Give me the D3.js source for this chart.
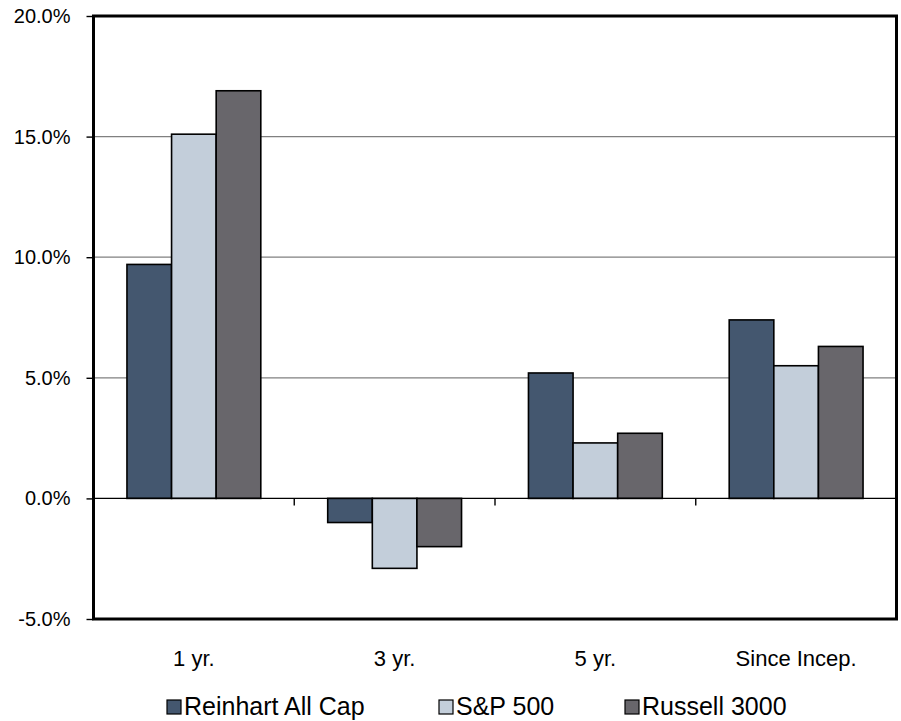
<!DOCTYPE html>
<html>
<head>
<meta charset="utf-8">
<script src="https://cdn.jsdelivr.net/npm/d3@7"></script>
<style>
  html, body { margin: 0; padding: 0; background: #ffffff; }
  svg { display: block; }
  text { font-family: "Liberation Sans", Arial, Helvetica, sans-serif; fill: #000; }
</style>
</head>
<body>
<svg id="chart" width="901" height="721"></svg>
<script>
// Annualized returns by period (%)
const periods = ["1 yr.", "3 yr.", "5 yr.", "Since Incep."];
const seriesNames = ["Reinhart All Cap", "S&P 500", "Russell 3000"];
const reinhart = [9.7, -1.0, 5.2, 7.4];
const sp500 = [15.1, -2.9, 2.3, 5.5];
const russell = [16.9, -2.0, 2.7, 6.3];
const yTicks = [-5, 0, 5, 10, 15, 20];
const seriesColors = ["#44576f", "#c3ceda", "#68666b"];

const seriesValues = [reinhart, sp500, russell];

const svg = d3.select("#chart");
const plot = { left: 93.5, right: 896.5, top: 16, bottom: 619 };

const x = d3.scaleBand()
  .domain(periods)
  .range([plot.left, plot.right])
  .padding(0);

// 150% gap between clusters: three bars plus 0.75 bar on each side
const xs = d3.scaleBand()
  .domain(seriesNames)
  .range([0, x.bandwidth()])
  .paddingInner(0)
  .paddingOuter(0.75);

const y = d3.scaleLinear()
  .domain([-5, 20])
  .range([plot.bottom, plot.top]);

// Horizontal gridlines
svg.append("g")
  .selectAll("line")
  .data(yTicks.filter(t => t > 0 && t < 20))
  .join("line")
  .attr("x1", plot.left).attr("x2", plot.right)
  .attr("y1", d => y(d)).attr("y2", d => y(d))
  .attr("stroke", "#808080")
  .attr("stroke-width", 1.2);

// Bars
const rows = periods.map((p, i) => ({
  period: p,
  values: seriesNames.map((s, j) => ({ series: s, value: seriesValues[j][i], color: seriesColors[j] }))
}));

const groups = svg.append("g")
  .selectAll("g")
  .data(rows)
  .join("g")
  .attr("transform", d => `translate(${x(d.period)},0)`);

groups.selectAll("rect")
  .data(d => d.values)
  .join("rect")
  .attr("x", d => xs(d.series))
  .attr("width", xs.bandwidth())
  .attr("y", d => y(Math.max(0, d.value)))
  .attr("height", d => Math.abs(y(d.value) - y(0)))
  .attr("fill", d => d.color)
  .attr("stroke", "#000")
  .attr("stroke-width", 1.6);

// Zero line with category separators
const zero = svg.append("g");
zero.append("line")
  .attr("x1", plot.left).attr("x2", plot.right)
  .attr("y1", y(0)).attr("y2", y(0))
  .attr("stroke", "#000")
  .attr("stroke-width", 1.4);
zero.selectAll("line.sep")
  .data(periods.slice(1))
  .join("line")
  .attr("class", "sep")
  .attr("x1", d => x(d)).attr("x2", d => x(d))
  .attr("y1", y(0)).attr("y2", y(0) + 7)
  .attr("stroke", "#000")
  .attr("stroke-width", 1.4);

// Y axis
const pct = d3.format(".1f");
const yAxis = d3.axisLeft(y)
  .tickValues(yTicks)
  .tickSize(7)
  .tickPadding(16)
  .tickFormat(d => pct(d).replace("\u2212", "-") + "%");

const ya = svg.append("g")
  .attr("transform", `translate(${plot.left},0)`)
  .call(yAxis);
ya.select(".domain").remove();
ya.selectAll(".tick line").attr("stroke", "#000").attr("stroke-width", 1.4);
ya.selectAll(".tick text")
  .attr("font-size", 20)
  .attr("font-family", "'Liberation Sans', Arial, sans-serif")
  .attr("fill", "#000");

// Plot frame
svg.append("rect")
  .attr("x", plot.left).attr("y", plot.top)
  .attr("width", plot.right - plot.left)
  .attr("height", plot.bottom - plot.top)
  .attr("fill", "none")
  .attr("stroke", "#000")
  .attr("stroke-width", 3);

// Category labels
svg.append("g")
  .selectAll("text")
  .data(periods)
  .join("text")
  .attr("x", d => x(d) + x.bandwidth() / 2)
  .attr("y", 666)
  .attr("text-anchor", "middle")
  .attr("font-size", 22)
  .text(d => d);

// Legend
const legendX = [167, 439, 625];
const legend = svg.append("g")
  .selectAll("g")
  .data(seriesNames)
  .join("g")
  .attr("transform", (d, i) => `translate(${legendX[i]},700)`);
legend.append("rect")
  .attr("width", 14).attr("height", 14)
  .attr("fill", (d, i) => seriesColors[i])
  .attr("stroke", "#000")
  .attr("stroke-width", 1.2);
legend.append("text")
  .attr("x", 17)
  .attr("y", 15)
  .attr("font-size", 25)
  .text(d => d);
</script>
</body>
</html>
